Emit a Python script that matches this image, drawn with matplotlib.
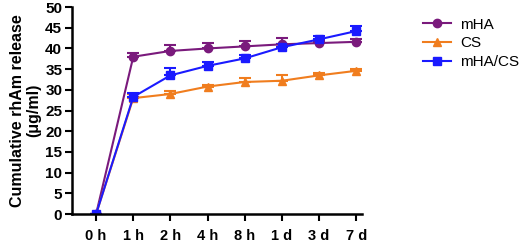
import matplotlib
matplotlib.use("Agg")
import matplotlib.pyplot as plt
from matplotlib.lines import Line2D

plt.rcParams["font.family"] = ["Liberation Sans", "DejaVu Sans"]

labels = ["0 h", "1 h", "2 h", "4 h", "8 h", "1 d", "3 d", "7 d"]

mha = [0, 38.0, 39.4, 40.0, 40.5, 41.0, 41.3, 41.6]
mha_err = [0, 0.9, 1.5, 1.2, 1.3, 1.5, 0.5, 0.6]

cs = [0, 28.0, 29.0, 30.8, 31.9, 32.2, 33.5, 34.6]
cs_err = [0, 1.1, 0.8, 0.4, 1.0, 1.3, 0.5, 0.5]

mhacs = [0, 28.3, 33.5, 35.8, 37.6, 40.3, 42.2, 44.2]
mhacs_err = [0, 1.0, 1.7, 1.0, 0.8, 0.8, 0.9, 1.2]

fig = plt.figure(figsize=(5.29, 2.43), dpi=100)
ax = fig.add_axes([0.136, 0.119, 0.548, 0.852])

x = list(range(len(labels)))
series = [
    ("mHA", mha, mha_err, "#7a1a7c", "o"),
    ("CS", cs, cs_err, "#f07d1e", "^"),
    ("mHA/CS", mhacs, mhacs_err, "#1a1aff", "s"),
]
handles = []
for name, y, err, col, mk in series:
    ax.errorbar(x, y, yerr=[[0] * len(err), err], color=col, marker=mk,
                markersize=6, linewidth=1.5, capsize=4, capthick=1.5,
                elinewidth=1.5)
    handles.append(Line2D([], [], color=col, marker=mk, markersize=6,
                          linewidth=1.5, label=name))

# significance stars at 7 d
ax.plot([x[-1], x[-1]], [mha[-1], mhacs[-1]], linestyle="none", marker="*",
        color="black", markersize=4)

ax.set_xlim(-0.65, 7.15)
ax.set_ylim(0, 50)
ax.set_yticks(range(0, 51, 5))
ax.set_xticks(x)
ax.set_xticklabels(labels)
for sp in ["top", "right"]:
    ax.spines[sp].set_visible(False)
for sp in ["left", "bottom"]:
    ax.spines[sp].set_linewidth(1.8)
ax.tick_params(axis="both", width=1.5, length=5, labelsize=11)
ax.tick_params(axis="x", pad=6, labelsize=10.5)
ax.tick_params(axis="y", pad=2)
for t in ax.get_xticklabels() + ax.get_yticklabels():
    t.set_fontweight("bold")
ax.set_ylabel("Cumulative rhAm release\n(μg/ml)", fontsize=11.5,
              fontweight="bold", labelpad=3, linespacing=1.1)

ax.legend(handles=handles, loc="upper left", bbox_to_anchor=(1.165, 1.015),
          frameon=False, fontsize=11, handlelength=1.8, handletextpad=0.6,
          labelspacing=0.3)

fig.savefig("out.png", dpi=100)
